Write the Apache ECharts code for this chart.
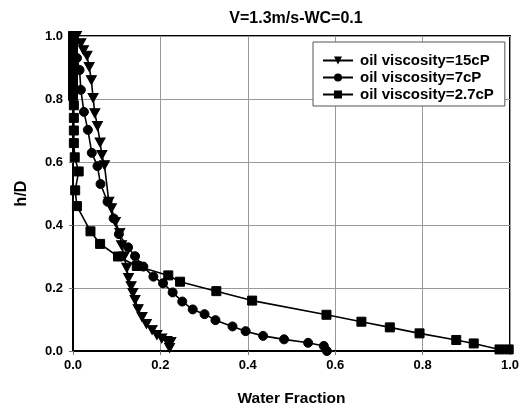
<!DOCTYPE html>
<html>
<head>
<meta charset="utf-8">
<script src="https://cdn.jsdelivr.net/npm/echarts@6/dist/echarts.min.js"></script>
<style>
html,body{margin:0;padding:0;background:#fff;}
#chart{width:523px;height:418px;}
</style>
</head>
<body>
<div id="chart"></div>
<script>
// Water fraction profiles across the pipe height (h/D) for three oil viscosities
const titleText = 'V=1.3m/s-WC=0.1';
const seriesNames = ['oil viscosity=15cP', 'oil viscosity=7cP', 'oil viscosity=2.7cP'];
const xTicks = [0, 0.2, 0.4, 0.6, 0.8, 1.0];
const yTicks = [0, 0.2, 0.4, 0.6, 0.8, 1.0];

// 15 cP: [water fraction, h/D]
const visc15 = [
  [0.008, 1.0], [0.018, 0.977], [0.024, 0.955], [0.032, 0.937], [0.037, 0.902],
  [0.042, 0.86], [0.046, 0.803], [0.050, 0.755], [0.056, 0.714], [0.062, 0.662],
  [0.066, 0.622], [0.072, 0.59], [0.082, 0.474], [0.088, 0.453], [0.097, 0.41],
  [0.107, 0.375], [0.111, 0.336], [0.117, 0.30], [0.123, 0.264], [0.127, 0.232],
  [0.133, 0.206], [0.137, 0.184], [0.142, 0.162], [0.149, 0.133], [0.158, 0.108],
  [0.168, 0.086], [0.181, 0.067], [0.192, 0.051], [0.203, 0.04], [0.215, 0.032],
  [0.224, 0.029], [0.221, 0.01]
];

// 7 cP
const visc7 = [
  [0.002, 1.0], [0.009, 0.93], [0.015, 0.892], [0.018, 0.829], [0.025, 0.759],
  [0.034, 0.702], [0.043, 0.629], [0.056, 0.587], [0.063, 0.53], [0.079, 0.474],
  [0.093, 0.421], [0.105, 0.371], [0.126, 0.329], [0.142, 0.301], [0.161, 0.268],
  [0.184, 0.236], [0.206, 0.215], [0.228, 0.186], [0.25, 0.157], [0.274, 0.132],
  [0.301, 0.117], [0.326, 0.098], [0.365, 0.078], [0.395, 0.063], [0.435, 0.048],
  [0.483, 0.037], [0.538, 0.026], [0.574, 0.016], [0.581, 0.0]
];

// 2.7 cP
const visc27 = [
  [0.0, 1.0], [0.0, 0.975], [0.0, 0.955], [0.0, 0.93], [0.0, 0.91],
  [0.0, 0.885], [0.0, 0.86], [0.0, 0.835], [0.0, 0.81], [0.002, 0.78],
  [0.002, 0.74], [0.002, 0.70], [0.002, 0.66], [0.004, 0.615], [0.013, 0.57],
  [0.005, 0.51], [0.009, 0.46], [0.04, 0.38], [0.062, 0.34], [0.103, 0.30],
  [0.146, 0.27], [0.218, 0.24], [0.245, 0.22], [0.328, 0.19], [0.41, 0.16],
  [0.58, 0.115], [0.66, 0.093], [0.725, 0.075], [0.793, 0.056], [0.877, 0.035],
  [0.917, 0.024], [0.976, 0.005], [0.997, 0.005]
];

const FONT = '"Liberation Sans", Arial, sans-serif';
const chart = echarts.init(document.getElementById('chart'), null, {renderer: 'canvas'});

function lineSeries(name, data, symbol, rotate) {
  return {
    name: name,
    type: 'line',
    data: data,
    symbol: symbol,
    symbolSize: symbol === 'triangle' ? [10, 9] : 9,
    symbolRotate: rotate,
    showAllSymbol: true,
    lineStyle: {color: '#000', width: 1.6},
    itemStyle: {color: '#000', borderColor: '#000'},
    animation: false
  };
}

const axisLabelStyle = {
  color: '#000', fontFamily: FONT, fontWeight: 'bold', fontSize: 13,
  formatter: v => v.toFixed(1)
};

chart.setOption({
  backgroundColor: '#fff',
  animation: false,
  title: {
    text: titleText,
    left: 291, top: 6, textAlign: 'center',
    textStyle: {fontFamily: FONT, fontWeight: 'bold', fontSize: 16, color: '#000'}
  },
  grid: {
    left: 73, right: 13, top: 36, bottom: 67,
    show: true, borderColor: '#000', borderWidth: 2, backgroundColor: 'transparent'
  },
  legend: {
    orient: 'vertical',
    left: 313, top: 42,
    padding: [11, 11, 4, 9],
    itemGap: 2,
    itemWidth: 30, itemHeight: 10,
    borderColor: '#555', borderWidth: 1,
    backgroundColor: '#fff',
    textStyle: {fontFamily: FONT, fontWeight: 'bold', fontSize: 15, lineHeight: 15,
                color: '#000', padding: [0, 0, 0, 2]},
    data: seriesNames
  },
  xAxis: {
    type: 'value', min: 0, max: 1, interval: 0.2,
    name: 'Water Fraction', nameLocation: 'middle', nameGap: 40,
    nameTextStyle: {fontFamily: FONT, fontWeight: 'bold', fontSize: 15.5, color: '#000'},
    axisLine: {show: true, lineStyle: {color: '#000', width: 2}},
    axisTick: {show: true, length: 4, lineStyle: {color: '#777'}},
    axisLabel: Object.assign({margin: 8, customValues: xTicks}, axisLabelStyle),
    splitLine: {show: true, lineStyle: {color: '#999', width: 1}}
  },
  yAxis: {
    type: 'value', min: 0, max: 1, interval: 0.2,
    name: 'h/D', nameLocation: 'middle', nameGap: 43, nameRotate: 90,
    nameTextStyle: {fontFamily: FONT, fontWeight: 'bold', fontSize: 16, color: '#000'},
    axisLine: {show: true, lineStyle: {color: '#000', width: 2}},
    axisTick: {show: true, length: 4, lineStyle: {color: '#777'}},
    axisLabel: Object.assign({margin: 10, customValues: yTicks}, axisLabelStyle),
    splitLine: {show: true, lineStyle: {color: '#999', width: 1}}
  },
  series: [
    lineSeries(seriesNames[0], visc15, 'triangle', 180),
    lineSeries(seriesNames[1], visc7, 'circle', 0),
    lineSeries(seriesNames[2], visc27, 'rect', 0)
  ]
});
</script>
</body>
</html>
